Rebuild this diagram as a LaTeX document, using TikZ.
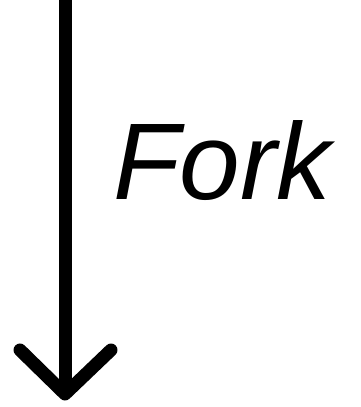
\documentclass[tikz,border=0pt]{standalone}
\usepackage{fontspec}
\setmainfont{Liberation Sans}
\begin{document}
\begin{tikzpicture}[x=1pt, y=1pt, line cap=round, line join=round]
\useasboundingbox (0,0) rectangle (361,407);
\coordinate (T) at (65,407);
\coordinate (P) at (65,13);
\coordinate (L) at (20,57);
\coordinate (R) at (111,57);

\draw[line width=13pt, line cap=butt] (T)--(P);
\draw[line width=13pt] (L)--(P)--(R);

\node[anchor=base west, inner sep=0pt, font=\fontsize{109}{109}\selectfont\itshape] (fork) at (113,207) {Fork};
\end{tikzpicture}
\end{document}
